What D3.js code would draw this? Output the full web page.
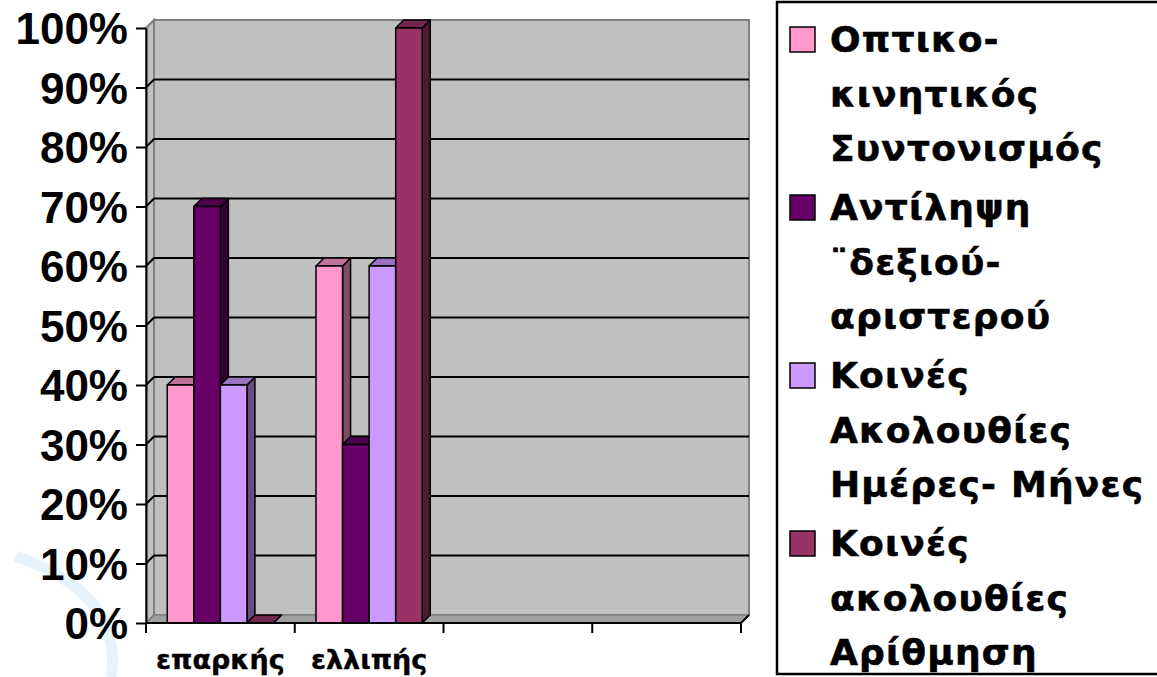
<!DOCTYPE html>
<html>
<head>
<meta charset="utf-8">
<script src="https://cdn.jsdelivr.net/npm/d3@7"></script>
<style>
body { margin: 0; background: #fff; }
svg { display: block; }
</style>
</head>
<body>
<div id="chart"></div>
<script>
"use strict";

// data
var categories = ["επαρκής", "ελλιπής", "", ""];
var legendLines = [
	["Οπτικο-", "κινητικός", "Συντονισμός"],
	["Αντίληψη", "¨δεξιού-", "αριστερού"],
	["Κοινές", "Ακολουθίες", "Ημέρες- Μήνες"],
	["Κοινές", "ακολουθίες", "Αρίθμηση"]
];
var opticoKinetic = [0.4, 0.6];
var leftRight = [0.7, 0.3];
var daysMonths = [0.4, 0.6];
var counting = [0.0, 1.0];
var yTicks = [0, 0.1, 0.2, 0.3, 0.4, 0.5, 0.6, 0.7, 0.8, 0.9, 1.0];

var seriesValues = [opticoKinetic, leftRight, daysMonths, counting];
var colors = ["#FF99CC", "#660066", "#CC99FF", "#993366"];

var width = 1157;
var height = 677;
var margin = {top: 28, left: 146, right: 416, bottom: 54};
var dx = 8, dy = -8; // 3d depth

var svg = d3.select("#chart").append("svg")
	.attr("width", width)
	.attr("height", height);

var x0 = d3.scaleBand()
	.domain(d3.range(categories.length))
	.range([margin.left, width - margin.right])
	.padding(0);

var x1 = d3.scaleBand()
	.domain(d3.range(seriesValues.length))
	.range([0, x0.bandwidth()])
	.paddingInner(0)
	.paddingOuter(0.8);

var y = d3.scaleLinear()
	.domain([0, 1])
	.range([height - margin.bottom, margin.top]);

function shade(c, k) {
	var r = d3.rgb(c);
	return d3.rgb(r.r * k, r.g * k, r.b * k).formatHex();
}

// faint decoration from the slide background
svg.append("path")
	.attr("d", "M 16 556 Q 92 584 106 628 Q 116 652 111 677")
	.attr("fill", "none")
	.attr("stroke", "#e6f3fd")
	.attr("stroke-width", 11);

var xL = x0.range()[0], xR = x0.range()[1];
var yB = y(0), yT = y(1);

// walls and floor
svg.append("rect")
	.attr("x", xL + dx).attr("y", yT + dy)
	.attr("width", xR - xL).attr("height", yB - yT)
	.attr("fill", "#C0C0C0").attr("stroke", "#808080").attr("stroke-width", 2);

svg.append("polygon")
	.attr("points", [[xL, yT], [xL + dx, yT + dy], [xL + dx, yB + dy], [xL, yB]].join(" "))
	.attr("fill", "#C0C0C0").attr("stroke", "#808080").attr("stroke-width", 2);

svg.append("polygon")
	.attr("points", [[xL, yB], [xL + dx, yB + dy], [xR + dx, yB + dy], [xR, yB]].join(" "))
	.attr("fill", "#A0A0A0").attr("stroke", "#808080").attr("stroke-width", 1.5);

// gridlines
var inner = yTicks.filter(function(t) { return t > 0 && t < 1; });
var grid = svg.append("g").attr("class", "grid");
grid.selectAll("line.back")
	.data(inner)
	.enter().append("line")
	.attr("class", "back")
	.attr("x1", xL + dx).attr("x2", xR + dx)
	.attr("y1", function(d) { return y(d) + dy; })
	.attr("y2", function(d) { return y(d) + dy; })
	.attr("stroke", "#000").attr("stroke-width", 2);
grid.selectAll("line.side")
	.data(inner)
	.enter().append("line")
	.attr("class", "side")
	.attr("x1", xL).attr("x2", xL + dx)
	.attr("y1", function(d) { return y(d); })
	.attr("y2", function(d) { return y(d) + dy; })
	.attr("stroke", "#000").attr("stroke-width", 2);

// bars
var bars = [];
categories.forEach(function(c, i) {
	seriesValues.forEach(function(vals, j) {
		if (vals[i] != null) bars.push({cat: i, ser: j, value: vals[i]});
	});
});

var bar = svg.selectAll("g.bar")
	.data(bars)
	.enter().append("g")
	.attr("class", "bar")
	.attr("stroke", "#000")
	.attr("stroke-width", 1.5)
	.attr("stroke-linejoin", "round");

function geom(d) {
	var x = x0(d.cat) + x1(d.ser), w = x1.bandwidth();
	return {x: x, w: w, t: y(d.value), b: y(0)};
}

bar.append("polygon")
	.attr("points", function(d) {
		var g = geom(d);
		return [[g.x + g.w, g.t], [g.x + g.w + dx, g.t + dy], [g.x + g.w + dx, g.b + dy], [g.x + g.w, g.b]].join(" ");
	})
	.attr("fill", function(d) { return shade(colors[d.ser], 0.5); });

bar.append("polygon")
	.attr("points", function(d) {
		var g = geom(d);
		return [[g.x, g.t], [g.x + dx, g.t + dy], [g.x + g.w + dx, g.t + dy], [g.x + g.w, g.t]].join(" ");
	})
	.attr("fill", function(d) { return shade(colors[d.ser], 0.75); });

bar.filter(function(d) { return d.value > 0; })
	.append("rect")
	.attr("x", function(d) { return geom(d).x; })
	.attr("y", function(d) { return geom(d).t; })
	.attr("width", x1.bandwidth())
	.attr("height", function(d) { var g = geom(d); return g.b - g.t; })
	.attr("fill", function(d) { return colors[d.ser]; });

// y axis
var yAxis = svg.append("g")
	.attr("transform", "translate(" + xL + ",0)")
	.call(d3.axisLeft(y).tickValues(yTicks).tickFormat(d3.format(".0%"))
		.tickSize(10).tickSizeOuter(0).tickPadding(8));
yAxis.select(".domain").attr("stroke", "#000").attr("stroke-width", 2);
yAxis.selectAll(".tick line").attr("stroke", "#000").attr("stroke-width", 2);
yAxis.selectAll(".tick text")
	.attr("font-family", "'Liberation Sans', Arial, sans-serif")
	.attr("font-weight", "bold")
	.attr("font-size", 44)
	.attr("fill", "#000")
	.attr("dy", "0.36em");

// x axis
var xAxis = svg.append("g")
	.attr("transform", "translate(0," + yB + ")")
	.call(d3.axisBottom(x0).tickFormat(function(i) { return categories[i]; })
		.tickSize(0).tickSizeOuter(0));
xAxis.select(".domain").remove();
xAxis.selectAll(".tick text")
	.attr("font-family", "'DejaVu Sans', Verdana, sans-serif")
	.attr("font-weight", "bold")
	.attr("font-size", 27)
	.attr("fill", "#000")
	.attr("stroke", "#000")
	.attr("stroke-width", 0.4)
	.attr("y", 46)
	.attr("dy", 0);

var bounds = d3.range(categories.length).map(function(i) { return x0(i); }).concat([xR]);
xAxis.append("path")
	.attr("d", "M" + xL + ",0H" + xR + "l" + dx + "," + dy)
	.attr("fill", "none").attr("stroke", "#000").attr("stroke-width", 2);
xAxis.selectAll("line.bound")
	.data(bounds)
	.enter().append("line")
	.attr("class", "bound")
	.attr("x1", function(d) { return d; }).attr("x2", function(d) { return d; })
	.attr("y1", 0).attr("y2", 10)
	.attr("stroke", "#000").attr("stroke-width", 2);

// legend
var lg = svg.append("g").attr("class", "legend");
lg.append("rect")
	.attr("x", 777).attr("y", 2)
	.attr("width", 420).attr("height", 672)
	.attr("fill", "#fff").attr("stroke", "#000").attr("stroke-width", 2.5);

var item = lg.selectAll("g.item")
	.data(legendLines)
	.enter().append("g")
	.attr("class", "item")
	.attr("transform", function(d, i) { return "translate(0," + (52 + i * 168) + ")"; });

item.append("rect")
	.attr("x", 790).attr("y", -25)
	.attr("width", 25).attr("height", 25)
	.attr("fill", function(d, i) { return colors[i]; })
	.attr("stroke", "#000").attr("stroke-width", 1.5);

item.append("text")
	.attr("font-family", "'DejaVu Sans', Verdana, sans-serif")
	.attr("font-weight", "bold")
	.attr("font-size", 36)
	.attr("letter-spacing", 1.2)
	.attr("fill", "#000")
	.attr("stroke", "#000")
	.attr("stroke-width", 0.6)
	.selectAll("tspan")
	.data(function(d) { return d; })
	.enter().append("tspan")
	.attr("x", 830)
	.attr("y", function(d, k) { return k * 54.5; })
	.text(function(d) { return d; });
</script>
</body>
</html>
